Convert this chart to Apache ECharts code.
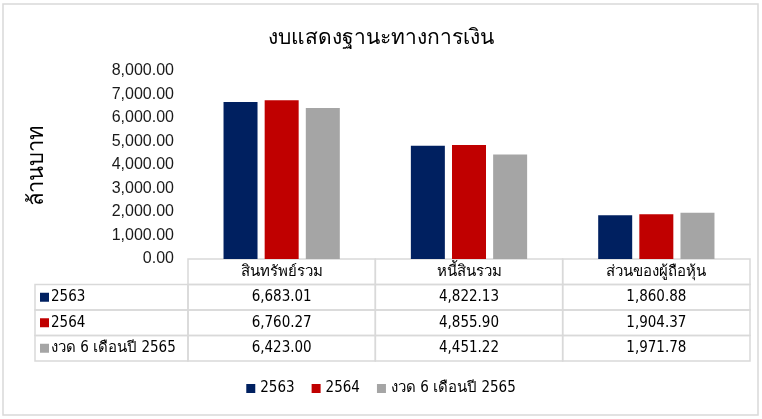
<!DOCTYPE html>
<html>
<head>
<meta charset="utf-8">
<script src="https://cdn.jsdelivr.net/npm/echarts@6/dist/echarts.min.js"></script>
<style>
  html, body { margin: 0; padding: 0; background: #fff; }
  #main { width: 762px; height: 419px; }
</style>
</head>
<body>
<div id="main"></div>
<script>
// ข้อมูลงบแสดงฐานะทางการเงิน (ล้านบาท)
var categories = ['สินทรัพย์รวม', 'หนี้สินรวม', 'ส่วนของผู้ถือหุ้น'];
var seriesNames = ['2563', '2564', 'งวด 6 เดือนปี 2565'];
var values2563 = [6683.01, 4822.13, 1860.88];
var values2564 = [6760.27, 4855.90, 1904.37];
var values2565 = [6423.00, 4451.22, 1971.78];
var colors = ['#002060', '#C00000', '#A5A5A5'];

var allValues = [values2563, values2564, values2565];
var LABEL_COL_W = 153;   // ความกว้างคอลัมน์ชื่อซีรีส์ในตาราง
var tableFont = '15px "DejaVu Sans Condensed", Tahoma, sans-serif';

function fmt(v) {
  return v.toLocaleString('en-US', { minimumFractionDigits: 2, maximumFractionDigits: 2 });
}

// ข้อมูลของตาราง: [คอลัมน์, แถว] แถว 0 = หัวตาราง, -1 = คอลัมน์ชื่อ
var tableData = [];
for (var c = 0; c < categories.length; c++) tableData.push([c, 0]);
for (var r = 0; r < seriesNames.length; r++) {
  tableData.push([-1, r + 1]);
  for (var c = 0; c < categories.length; c++) tableData.push([c, r + 1]);
}

var myChart = echarts.init(document.getElementById('main'));

function renderCell(params, api) {
  var ci = api.value(0), ri = api.value(1);
  var cellStroke = { stroke: '#d9d9d9', lineWidth: 1.5, fill: 'transparent' };
  var size = api.size([1, 1]);
  var mid = api.coord([0, ri]);
  var y0 = mid[1] - size[1] / 2;
  if (ci < 0) {
    var x0 = params.coordSys.x - LABEL_COL_W;
    return {
      type: 'group',
      children: [
        { type: 'rect', shape: { x: x0, y: y0, width: LABEL_COL_W, height: size[1] }, style: cellStroke },
        { type: 'rect', shape: { x: x0 + 5, y: mid[1] - 4.5, width: 9, height: 9 }, style: { fill: colors[ri - 1] } },
        { type: 'text', style: { x: x0 + 16, y: mid[1], text: seriesNames[ri - 1], font: tableFont, fill: '#000', align: 'left', verticalAlign: 'middle' } }
      ]
    };
  }
  var p = api.coord([ci, ri]);
  var txt = ri === 0 ? categories[ci] : fmt(allValues[ri - 1][ci]);
  return {
    type: 'group',
    children: [
      { type: 'rect', shape: { x: p[0] - size[0] / 2, y: y0, width: size[0], height: size[1] }, style: cellStroke },
      { type: 'text', style: { x: p[0], y: p[1], text: txt, font: tableFont, fill: '#000', align: 'center', verticalAlign: 'middle' } }
    ]
  };
}

var options = {
  animation: false,
  backgroundColor: '#fff',
  title: {
    text: 'งบแสดงฐานะทางการเงิน',
    left: 'center',
    top: 23,
    textStyle: { fontSize: 21, fontWeight: 'normal', color: '#000', fontFamily: '"Liberation Sans Narrow", "Noto Sans", sans-serif' }
  },
  legend: {
    data: seriesNames,
    bottom: 18,
    left: 'center',
    itemWidth: 9,
    itemHeight: 9,
    itemGap: 17,
    icon: 'rect',
    textStyle: { fontSize: 15, color: '#000', fontFamily: '"DejaVu Sans Condensed", Tahoma, sans-serif' }
  },
  graphic: [{
    type: 'rect',
    shape: { x: 3, y: 4, width: 755, height: 411 },
    style: { fill: 'transparent', stroke: '#d9d9d9', lineWidth: 1.5 },
    silent: true
  }],
  grid: [
    { left: 188, right: 12, top: 71, height: 188 },
    { left: 188, right: 12, top: 259, height: 102 }
  ],
  xAxis: [
    { gridIndex: 0, type: 'category', data: categories, show: false },
    { gridIndex: 1, type: 'category', data: categories, show: false }
  ],
  yAxis: [
    {
      gridIndex: 0,
      type: 'value',
      min: 0,
      max: 8000,
      interval: 1000,
      name: 'ล้านบาท',
      nameLocation: 'middle',
      nameGap: 140,
      nameTextStyle: { fontSize: 22, color: '#000', fontFamily: '"Liberation Sans Narrow", "Noto Sans", sans-serif' },
      axisLine: { show: false },
      axisTick: { show: false },
      splitLine: { show: false },
      axisLabel: {
        margin: 14,
        fontSize: 16,
        color: '#1a1a1a',
        fontFamily: '"Liberation Sans Narrow", sans-serif',
        formatter: function (v) { return fmt(v); }
      }
    },
    {
      gridIndex: 1,
      type: 'category',
      inverse: true,
      data: ['หัว'].concat(seriesNames),
      show: false
    }
  ],
  series: [
    { name: seriesNames[0], type: 'bar', data: values2563, barWidth: 34, barGap: '21%', itemStyle: { color: colors[0] } },
    { name: seriesNames[1], type: 'bar', data: values2564, barWidth: 34, barGap: '21%', itemStyle: { color: colors[1] } },
    { name: seriesNames[2], type: 'bar', data: values2565, barWidth: 34, barGap: '21%', itemStyle: { color: colors[2] } },
    {
      name: 'table',
      type: 'custom',
      xAxisIndex: 1,
      yAxisIndex: 1,
      silent: true,
      data: tableData,
      renderItem: renderCell
    }
  ]
};

myChart.setOption(options);
</script>
</body>
</html>
